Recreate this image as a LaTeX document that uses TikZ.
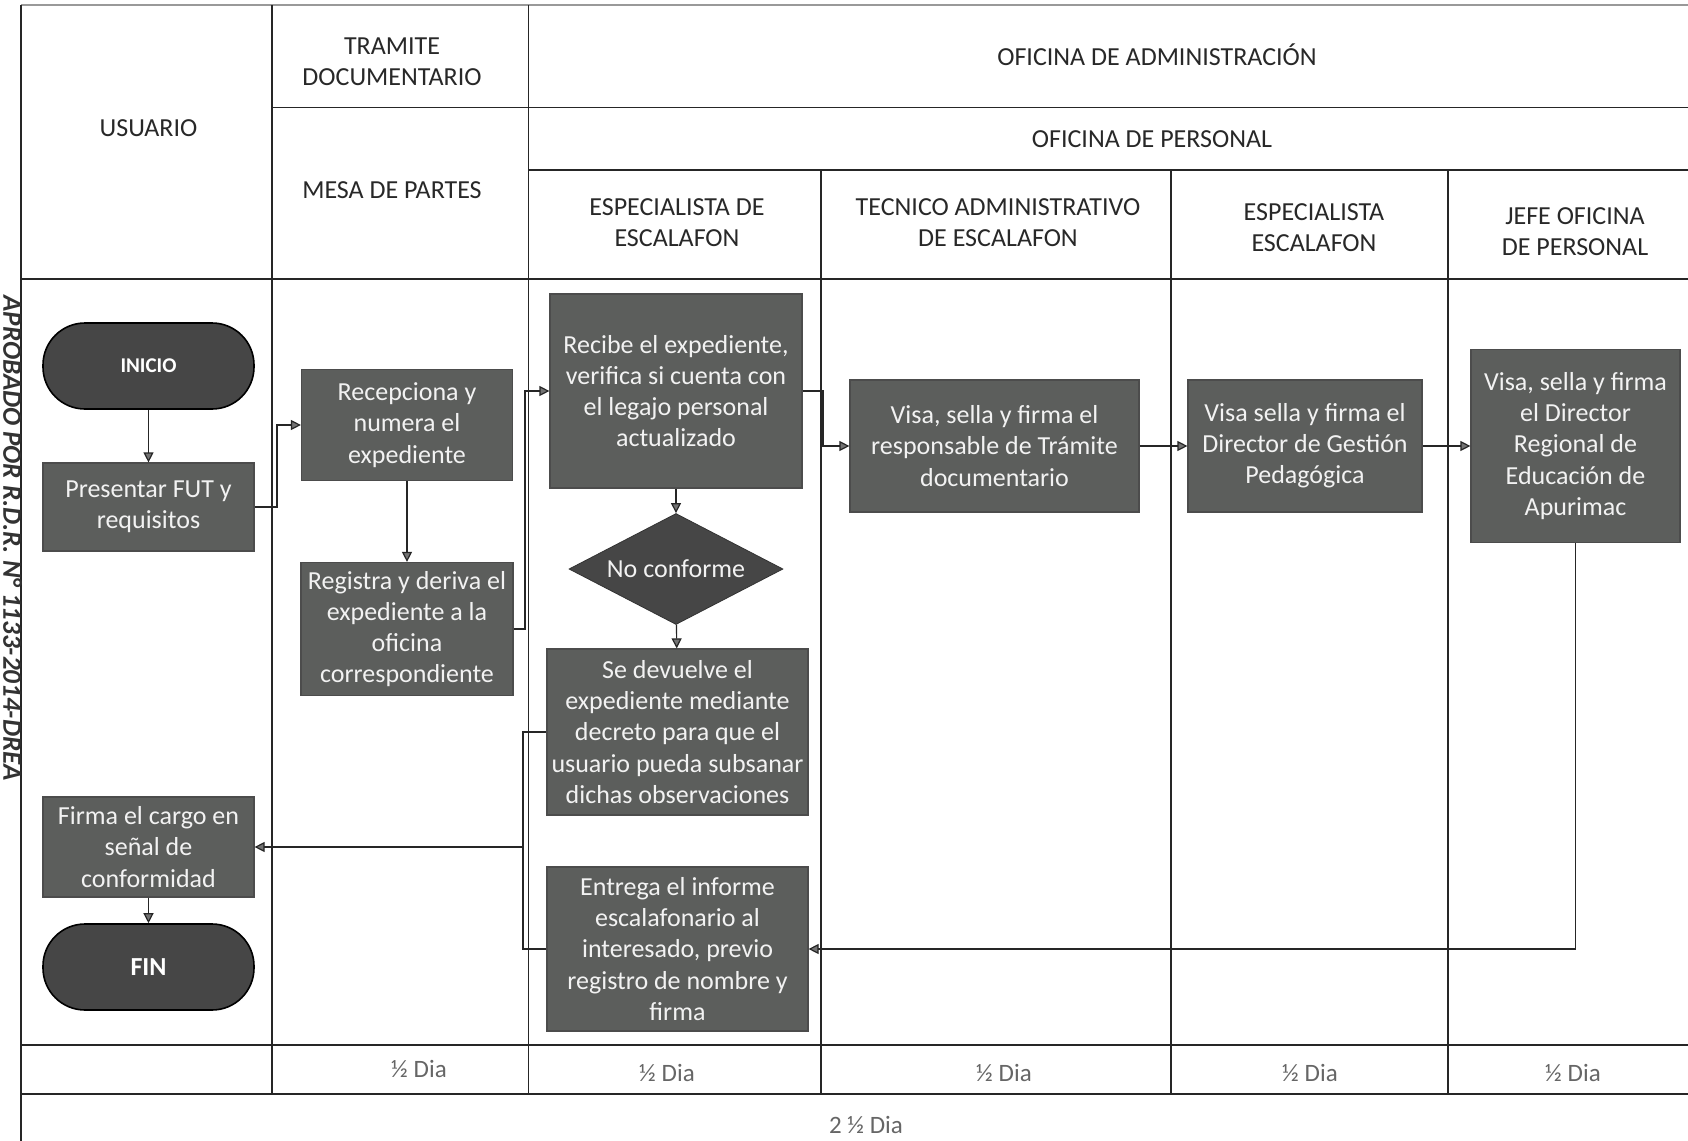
\documentclass[tikz,border=0pt]{standalone}
\usepackage{fontspec}
\setmainfont{Carlito}
\usetikzlibrary{arrows.meta,shapes.geometric}
\definecolor{boxfill}{RGB}{92,94,92}
\definecolor{darkfill}{RGB}{70,70,70}
\definecolor{boxtext}{RGB}{242,242,242}
\definecolor{hdr}{RGB}{40,40,40}
\begin{document}
\begin{tikzpicture}[x=0.5pt,y=-0.5pt,
  lane/.style={draw=black!85, line width=0.6pt},
  box/.style={rectangle, fill=boxfill, draw=black!70, line width=0.6pt, text=boxtext, align=center, font=\fontsize{13}{15.6}\selectfont, inner sep=2pt},
  term/.style={rectangle, rounded corners=21pt, fill=darkfill, draw=black, line width=0.8pt, text=white, minimum width=105.5pt, minimum height=43pt},
  dec/.style={diamond, aspect=2, fill=darkfill, draw=black!80, text=boxtext, inner sep=0pt, minimum width=107pt, minimum height=55.5pt, font=\fontsize{13}{15.6}\selectfont},
  hd/.style={text=hdr, align=center, font=\fontsize{13}{15.6}\selectfont},
  dia/.style={text=black!60, font=\fontsize{12.5}{15}\selectfont},
  arr/.style={draw=black!85, line width=0.6pt, -{Triangle[length=5pt,width=5pt,fill=black!55]}},
  conn/.style={draw=black!85, line width=0.6pt}
]
\useasboundingbox[fill=white] (0,0) rectangle (1688,1141);

% table lines
\draw[draw=black!40, line width=0.8pt] (21,5) -- (1688,5);
\draw[lane] (272,107.5) -- (1688,107.5);
\draw[lane] (528.5,170) -- (1688,170);
\draw[lane] (21,279) -- (1688,279);
\draw[lane] (21,1045) -- (1688,1045);
\draw[lane] (21,1094) -- (1688,1094);
\draw[lane] (21,5) -- (21,1141);
\draw[lane] (272,5) -- (272,1094);
\draw[lane] (528.5,5) -- (528.5,1094);
\draw[lane] (821,170) -- (821,1094);
\draw[lane] (1171,170) -- (1171,1094);
\draw[lane] (1448,170) -- (1448,1094);

% headers
\node[hd] (hUsu) at (148.5,128) {USUARIO};
\node[hd] (hTram) at (392,62) {TRAMITE\\DOCUMENTARIO};
\node[hd] (hAdm) at (1157,55) {OFICINA DE ADMINISTRACIÓN};
\node[hd] (hMesa) at (392,190.5) {MESA DE PARTES};
\node[hd] (hPers) at (1152,139) {OFICINA DE PERSONAL};
\node[hd] (hEsp1) at (677,222.5) {ESPECIALISTA DE\\ESCALAFON};
\node[hd] (hTec) at (998,222.5) {TECNICO ADMINISTRATIVO\\DE ESCALAFON};
\node[hd] (hEsp2) at (1314,227.5) {ESPECIALISTA\\ESCALAFON};
\node[hd] (hJefe) at (1575,232) {JEFE OFICINA\\DE PERSONAL};

% side text
\node[rotate=-90, anchor=base, inner sep=0pt, text=black!80, font=\bfseries\itshape\fontsize{13.5}{16}\selectfont] (side) at (3.5,538) {APROBADO POR R.D.R. N° 1133-2014-DREA};

% process nodes
\node[term, font=\bfseries\fontsize{10.5}{12}\selectfont] (inicio) at (148.5,366) {INICIO};
\node[box, minimum width=105.5pt, minimum height=44pt] (fut) at (148.5,507) {Presentar FUT y\\requisitos};
\node[box, minimum width=105.5pt, minimum height=50pt] (firma) at (148.5,847) {Firma el cargo en\\señal de\\conformidad};
\node[term, font=\bfseries\fontsize{13}{15}\selectfont] (fin) at (148.5,967) {FIN};
\node[box, minimum width=105.5pt, minimum height=55.5pt] (recep) at (407,425) {Recepciona y\\numera el\\expediente};
\node[box, minimum width=106pt, minimum height=66.5pt] (registra) at (407,629) {Registra y deriva el\\expediente a la\\oficina\\correspondiente};
\node[box, minimum width=126pt, minimum height=97pt] (recibe) at (676,391) {Recibe el expediente,\\verifica si cuenta con\\el legajo personal\\actualizado};
\node[dec] (nocon) at (676,569) {No conforme};
\node[box, minimum width=130.5pt, minimum height=83pt] (devuelve) at (677.5,732) {Se devuelve el\\expediente mediante\\decreto para que el\\usuario pueda subsanar\\dichas observaciones};
\node[box, minimum width=130.5pt, minimum height=82pt] (entrega) at (677.5,949) {Entrega el informe\\escalafonario al\\interesado, previo\\registro de nombre y\\firma};
\node[box, minimum width=144.5pt, minimum height=66pt] (visa1) at (994.5,446) {Visa, sella y firma el\\responsable de Trámite\\documentario};
\node[box, minimum width=117pt, minimum height=66pt] (visa2) at (1305,446) {Visa sella y firma el\\Director de Gestión\\Pedagógica};
\node[box, minimum width=104.5pt, minimum height=96.5pt] (visa3) at (1575.5,446) {Visa, sella y firma\\el Director\\Regional de\\Educación de\\Apurimac};

% elbow coordinates
\coordinate (e1) at (277,425);
\coordinate (e2) at (525,391);
\coordinate (e3) at (823,446);
\coordinate (e4) at (523,847);

% connectors
\draw[arr] (inicio) -- (fut);
\draw[arr] (fut.east) -| (e1) -- (recep.west);
\draw[arr] (recep) -- (registra);
\draw[arr] (registra.east) -| (e2) -- (recibe.west);
\draw[arr] (recibe) -- (nocon);
\draw[arr] (nocon) -- (devuelve);
\draw[arr] (recibe.east) -| (e3) -- (visa1.west);
\draw[arr] (visa1) -- (visa2);
\draw[arr] (visa2) -- (visa3);
\draw[arr] (visa3.south) |- (entrega.east);
\draw[arr] (devuelve.west) -| (e4) -- (firma.east);
\draw[conn] (entrega.west) -| (e4);
\draw[arr] (firma) -- (fin);

% times
\node[dia] (d1) at (419,1069) {½ Dia};
\node[dia] (d2) at (667,1073) {½ Dia};
\node[dia] (d3) at (1004,1073) {½ Dia};
\node[dia] (d4) at (1310,1073) {½ Dia};
\node[dia] (d5) at (1573,1073) {½ Dia};
\node[dia] (dt) at (866,1125) {2 ½ Dia};
\end{tikzpicture}
\end{document}
